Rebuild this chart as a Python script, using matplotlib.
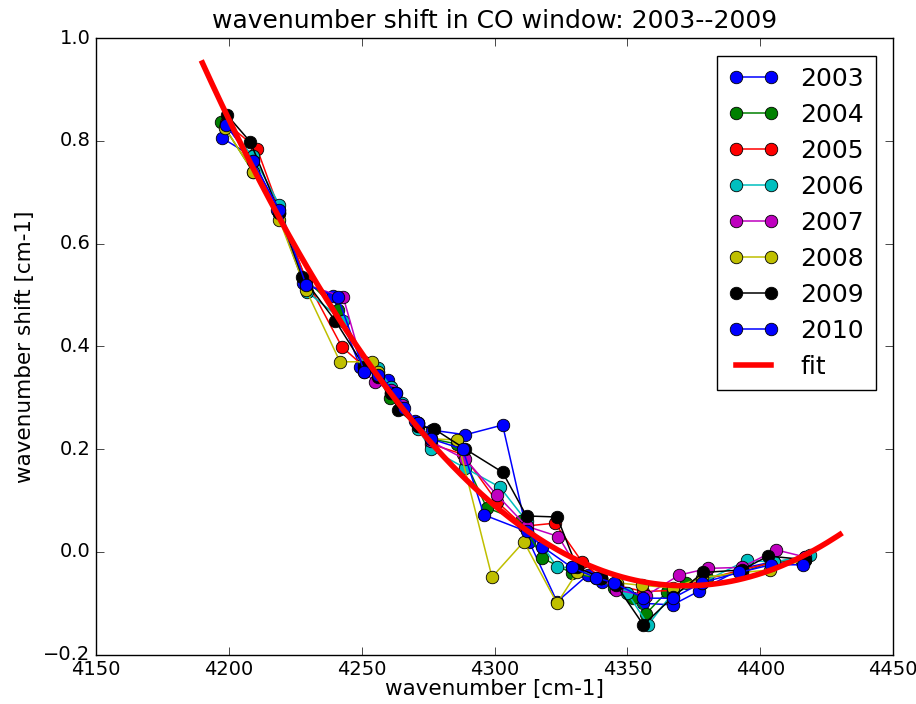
import numpy as np
import matplotlib
matplotlib.use('Agg')
import matplotlib.pyplot as plt

plt.style.use('classic')

years = ['2003', '2004', '2005', '2006', '2007', '2008', '2009', '2010']
colors = ['b', 'g', 'r', 'c', 'm', 'y', 'k', 'b']

# wavenumber positions [cm-1] and shifts [cm-1], one list per year
x2003 = [4197.5, 4208.7, 4218, 4228, 4239, 4249.4, 4256, 4260, 4263, 4270, 4276.5, 4289,
         4303, 4313, 4323.5, 4335, 4340.4, 4346, 4356, 4367, 4377, 4393, 4404, 4415.7]
y2003 = [0.805, 0.77, 0.665, 0.523, 0.498, 0.36, 0.35, 0.335, 0.31, 0.255, 0.237, 0.228,
         0.247, 0.02, -0.097, -0.045, -0.058, -0.065, -0.1, -0.103, -0.076, -0.032, -0.02, -0.019]

x2004 = [4197, 4209, 4219, 4229, 4241, 4251, 4256, 4260.6, 4265, 4271, 4276, 4286,
         4297, 4310, 4318, 4329, 4338, 4345, 4352, 4357, 4365, 4372, 4380, 4393, 4404, 4417]
y2004 = [0.837, 0.74, 0.66, 0.53, 0.47, 0.365, 0.34, 0.30, 0.28, 0.25, 0.22, 0.21,
         0.086, 0.06, -0.012, -0.041, -0.05, -0.07, -0.09, -0.12, -0.077, -0.06, -0.05, -0.04, -0.02, -0.015]

x2005 = [4199, 4210.6, 4219, 4229, 4242.5, 4251, 4256, 4261, 4265, 4271, 4276, 4288,
         4301, 4311, 4322.7, 4333, 4340, 4346, 4356, 4367, 4378, 4393, 4405, 4417]
y2005 = [0.835, 0.784, 0.665, 0.53, 0.399, 0.36, 0.345, 0.31, 0.28, 0.25, 0.21, 0.19,
         0.097, 0.05, 0.056, -0.02, -0.05, -0.065, -0.077, -0.075, -0.055, -0.035, -0.02, -0.01]

x2006 = [4199, 4209, 4219, 4229.4, 4243, 4251, 4256, 4261, 4265, 4271, 4276, 4289,
         4302, 4312, 4323.5, 4329, 4340, 4350, 4357.8, 4367, 4378, 4395, 4405, 4418.7]
y2006 = [0.83, 0.77, 0.675, 0.506, 0.45, 0.37, 0.358, 0.32, 0.29, 0.24, 0.20, 0.163,
         0.126, 0.06, -0.03, -0.03, -0.05, -0.08, -0.142, -0.08, -0.06, -0.016, -0.02, -0.006]

x2007 = [4199, 4209, 4219, 4229, 4243, 4251, 4255, 4261, 4265, 4271, 4276, 4289,
         4301, 4312, 4324, 4331, 4340, 4345.7, 4357, 4369.5, 4380.4, 4393, 4406, 4417]
y2007 = [0.83, 0.76, 0.66, 0.52, 0.496, 0.35, 0.33, 0.315, 0.285, 0.245, 0.215, 0.18,
         0.11, 0.05, 0.03, -0.03, -0.05, -0.074, -0.085, -0.045, -0.032, -0.03, 0.004, -0.01]

x2008 = [4198.5, 4209, 4219, 4229, 4241.8, 4253.9, 4256, 4261, 4265, 4271, 4276, 4286,
         4299, 4311, 4323.5, 4331, 4340, 4346, 4355.5, 4367, 4378, 4393, 4403.6, 4417]
y2008 = [0.825, 0.74, 0.646, 0.51, 0.37, 0.37, 0.35, 0.31, 0.28, 0.25, 0.22, 0.218,
         -0.049, 0.02, -0.1, -0.04, -0.05, -0.06, -0.065, -0.07, -0.05, -0.04, -0.035, -0.015]

x2009 = [4199.3, 4208, 4219, 4227.6, 4240, 4251, 4256, 4261, 4263.7, 4271, 4277, 4289,
         4303, 4312, 4323.5, 4331, 4340, 4345.7, 4356, 4367, 4378.5, 4393, 4403, 4417]
y2009 = [0.85, 0.798, 0.66, 0.535, 0.45, 0.36, 0.34, 0.31, 0.276, 0.245, 0.24, 0.20,
         0.155, 0.07, 0.068, -0.03, -0.05, -0.064, -0.142, -0.088, -0.04, -0.035, -0.008, -0.015]

x2010 = [4199, 4209, 4219, 4229, 4241, 4251, 4256, 4263, 4266, 4271, 4276, 4288,
         4296, 4312, 4318, 4329, 4338, 4345, 4356, 4367, 4378, 4392, 4404, 4416]
y2010 = [0.83, 0.76, 0.665, 0.52, 0.496, 0.35, 0.345, 0.31, 0.28, 0.25, 0.22, 0.2,
         0.072, 0.04, 0.01, -0.03, -0.05, -0.06, -0.09, -0.09, -0.06, -0.04, -0.025, -0.025]

xs = [x2003, x2004, x2005, x2006, x2007, x2008, x2009, x2010]
ys = [y2003, y2004, y2005, y2006, y2007, y2008, y2009, y2010]

# fit curve (smoothed with a cubic below)
fit_x = [4190, 4220, 4250, 4275, 4300, 4325, 4350, 4365, 4400, 4430]
fit_y = [0.955, 0.64, 0.365, 0.235, 0.10, 0.0, -0.057, -0.07, -0.04, 0.035]

fig = plt.figure(figsize=(9.16, 7.04), dpi=100, facecolor='w')
ax = fig.add_axes([0.105, 0.070, 0.870, 0.876])

for x, y, c, lab in zip(xs, ys, colors, years):
    ax.plot(x, y, '-o', color=c, label=lab, markersize=9, markeredgewidth=0.6,
            markeredgecolor='k', linewidth=1.1)

coef = np.polyfit(fit_x, fit_y, 3)
xf = np.linspace(fit_x[0], fit_x[-1], 200)
ax.plot(xf, np.polyval(coef, xf), 'r-', linewidth=4, label='fit')

ax.set_xlim(4150, 4450)
ax.set_ylim(-0.2, 1.0)
ax.set_xticks(np.arange(4150, 4451, 50))
ax.set_yticks(np.arange(-0.2, 1.01, 0.2))
ax.tick_params(labelsize=14, direction='in', top=True, right=True, length=6)
ax.set_xlabel('wavenumber [cm-1]', fontsize=15.5, labelpad=0)
ax.set_ylabel('wavenumber shift [cm-1]', fontsize=15.5, labelpad=6)
ax.set_title('wavenumber shift in CO window: 2003--2009', fontsize=18, y=1.005)

leg = ax.legend(loc='upper right', numpoints=2, fontsize=18, handlelength=2.0,
                labelspacing=0.48, borderpad=0.45, borderaxespad=0.7,
                handletextpad=0.9, fancybox=False)
leg.get_frame().set_edgecolor('k')

fig.savefig('out.png', dpi=100, facecolor='w')
